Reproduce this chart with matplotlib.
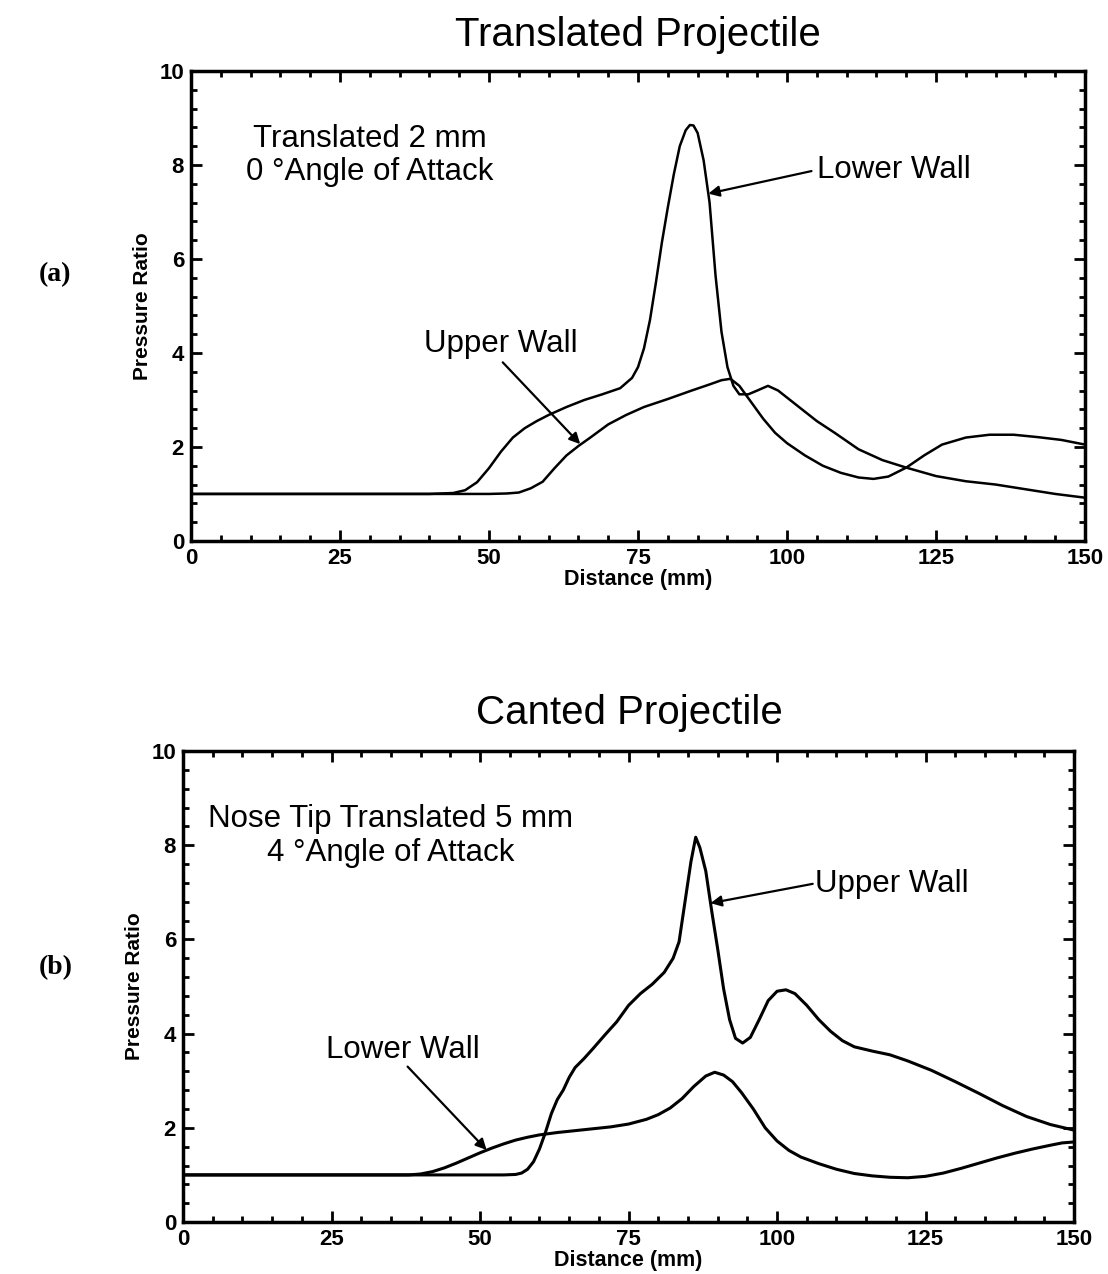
import matplotlib
matplotlib.use("Agg")
import matplotlib.pyplot as plt
from matplotlib.ticker import MultipleLocator

plt.rcParams['font.family'] = ['Liberation Sans', 'DejaVu Sans']

# ---- (a) Translated projectile ----
a_lower_x = [0, 20, 40, 44, 46, 48, 50, 52, 54, 56, 58, 60, 63, 66, 69, 72,
             74, 75, 76, 77, 78, 79, 80, 81, 82, 83, 83.7, 84.3, 85, 86, 87,
             88, 89, 90, 91, 92, 93.5, 95, 96.8, 98.5, 100, 102, 105, 108,
             112, 116, 120, 125, 130, 135, 140, 145, 150]
a_lower_y = [1.0, 1.0, 1.0, 1.02, 1.08, 1.25, 1.55, 1.9, 2.2, 2.4, 2.55, 2.68,
             2.85, 3.0, 3.12, 3.25, 3.47, 3.7, 4.1, 4.7, 5.5, 6.35, 7.1, 7.8,
             8.4, 8.74, 8.85, 8.84, 8.68, 8.1, 7.2, 5.65, 4.45, 3.7, 3.3, 3.12,
             3.12, 3.2, 3.3, 3.2, 3.05, 2.85, 2.55, 2.3, 1.95, 1.72, 1.56, 1.38,
             1.27, 1.2, 1.1, 1.0, 0.92]
a_upper_x = [0, 20, 40, 50, 53, 55, 57, 59, 61, 63, 65, 67, 70, 73, 76, 80,
             84, 87, 89, 90.5, 92, 94, 96, 98, 100, 103, 106, 109, 112, 114.5,
             117, 120, 123, 126, 130, 134, 138, 142, 146, 150]
a_upper_y = [1.0, 1.0, 1.0, 1.0, 1.01, 1.03, 1.12, 1.26, 1.55, 1.82, 2.02, 2.2,
             2.48, 2.68, 2.85, 3.02, 3.2, 3.33, 3.42, 3.45, 3.3, 2.95, 2.6, 2.3,
             2.08, 1.82, 1.6, 1.45, 1.35, 1.32, 1.37, 1.56, 1.82, 2.05, 2.2,
             2.26, 2.26, 2.21, 2.15, 2.05]

# ---- (b) Canted projectile ----
b_lower_x = [0, 20, 38, 40, 42, 44, 46, 48, 50, 52, 54, 56, 58, 60, 63, 66, 69,
             72, 75, 78, 80, 82, 84, 86, 88, 89.5, 91, 92.5, 94, 96, 98, 100,
             102, 104, 107, 110, 113, 116, 119, 122, 125, 128, 131, 134, 137,
             140, 143, 146, 148, 150]
b_lower_y = [1.0, 1.0, 1.0, 1.02, 1.07, 1.15, 1.25, 1.36, 1.47, 1.57, 1.66,
             1.74, 1.8, 1.85, 1.9, 1.94, 1.98, 2.02, 2.08, 2.18, 2.28, 2.42,
             2.62, 2.88, 3.1, 3.18, 3.12, 2.98, 2.75, 2.4, 2.0, 1.72, 1.52,
             1.38, 1.24, 1.12, 1.03, 0.98, 0.95, 0.94, 0.97, 1.04, 1.14, 1.25,
             1.36, 1.46, 1.55, 1.63, 1.68, 1.7]
b_upper_x = [0, 20, 40, 54, 56, 57, 58, 59, 60, 61, 62, 63, 64, 65, 66, 67.5,
             69, 71, 73, 75, 77, 79, 81, 82.5, 83.5, 84.5, 85.5, 86.3, 87, 88,
             89, 90, 91, 92, 93, 94.2, 95.5, 97, 98.5, 100, 101.5, 103, 105,
             107, 109, 111, 113, 116, 119, 122, 126, 130, 134, 138, 142, 146,
             150]
b_upper_y = [1.0, 1.0, 1.0, 1.0, 1.01, 1.04, 1.12, 1.28, 1.55, 1.9, 2.3, 2.6,
             2.8, 3.07, 3.28, 3.47, 3.68, 3.97, 4.25, 4.6, 4.85, 5.05, 5.3,
             5.6, 5.95, 6.8, 7.65, 8.17, 7.95, 7.45, 6.6, 5.8, 4.95, 4.3, 3.9,
             3.8, 3.92, 4.3, 4.7, 4.9, 4.93, 4.85, 4.6, 4.3, 4.05, 3.85, 3.72,
             3.63, 3.55, 3.42, 3.22, 2.98, 2.73, 2.47, 2.24, 2.07, 1.95]

x_ticks = [0, 25, 50, 75, 100, 125, 150]
y_ticks = [0, 2, 4, 6, 8, 10]

fig = plt.figure(figsize=(11.08, 12.74), dpi=100)
ax1 = fig.add_axes([0.1724, 0.5754, 0.8069, 0.3689])
ax2 = fig.add_axes([0.1652, 0.0408, 0.8042, 0.3697])


def style(ax):
    ax.set_xlim(0, 150)
    ax.set_ylim(0, 10)
    ax.set_xticks(x_ticks)
    ax.set_yticks(y_ticks)
    ax.xaxis.set_minor_locator(MultipleLocator(5))
    ax.yaxis.set_minor_locator(MultipleLocator(0.4))
    ax.tick_params(which='both', direction='in', top=True, right=True,
                   width=2)
    ax.tick_params(which='major', length=8, labelsize=16, pad=5)
    ax.tick_params(which='minor', length=4)
    for lab in ax.get_xticklabels() + ax.get_yticklabels():
        lab.set_fontweight('bold')
    for s in ax.spines.values():
        s.set_linewidth(2.5)
    ax.set_xlabel('Distance (mm)', fontsize=15.5, fontweight='bold',
                  labelpad=0)
    ax.set_ylabel('Pressure Ratio', fontsize=15, fontweight='bold',
                  labelpad=5)


arrow = dict(arrowstyle='-|>', color='black', lw=1.6, mutation_scale=16,
             shrinkA=0, shrinkB=0)

# (a)
ax1.plot(a_lower_x, a_lower_y, color='black', lw=1.8)
ax1.plot(a_upper_x, a_upper_y, color='black', lw=1.8)
style(ax1)
ax1.text(30, 8.2, 'Translated 2 mm\n0 °Angle of Attack', fontsize=22.5,
         ha='center', va='center', linespacing=1.15)
ax1.annotate('', xy=(86.8, 7.39), xytext=(104.1, 7.87), arrowprops=arrow)
ax1.text(105, 7.89, 'Lower Wall', fontsize=22.5, ha='left', va='center')
ax1.annotate('', xy=(65.3, 2.06), xytext=(52.3, 3.8), arrowprops=arrow)
ax1.text(52, 4.2, 'Upper Wall', fontsize=22.5, ha='center', va='center')

# (b)
ax2.plot(b_lower_x, b_lower_y, color='black', lw=2.2)
ax2.plot(b_upper_x, b_upper_y, color='black', lw=2.2)
style(ax2)
ax2.text(35, 8.2, 'Nose Tip Translated 5 mm\n4 °Angle of Attack',
         fontsize=22.5, ha='center', va='center', linespacing=1.15)
ax2.annotate('', xy=(88.8, 6.77), xytext=(106, 7.18), arrowprops=arrow)
ax2.text(106.3, 7.18, 'Upper Wall', fontsize=22.5, ha='left', va='center')
ax2.annotate('', xy=(51.1, 1.53), xytext=(37.8, 3.3), arrowprops=arrow)
ax2.text(37, 3.65, 'Lower Wall', fontsize=22.5, ha='center', va='center')

fig.text(0.576, 0.9725, 'Translated Projectile', fontsize=29,
         ha='center', va='center')
fig.text(0.568, 0.440, 'Canted Projectile', fontsize=29,
         ha='center', va='center')
fig.text(0.05, 1 - 275 / 1274, '(a)', fontsize=20, fontweight='bold',
         family=['Liberation Serif', 'DejaVu Serif'], ha='center',
         va='center')
fig.text(0.05, 1 - 968 / 1274, '(b)', fontsize=20, fontweight='bold',
         family=['Liberation Serif', 'DejaVu Serif'], ha='center',
         va='center')

fig.savefig('out.png', dpi=100)
